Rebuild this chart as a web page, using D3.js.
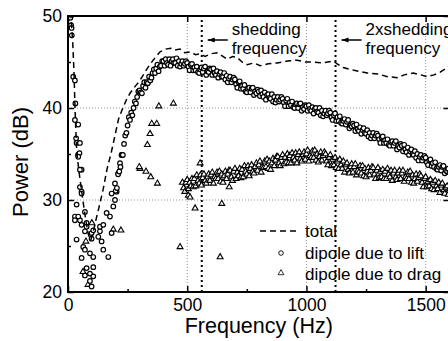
<!DOCTYPE html>
<html>
<head>
<meta charset="utf-8">
<script src="https://d3js.org/d3.v7.min.js"></script>
<style>
  body { margin: 0; background: #fff; }
  svg { display: block; font-family: "Liberation Sans", Arial, sans-serif; }
</style>
</head>
<body>
<div id="chart"></div>
<script>
// spectrum values (Hz, dB)
const totalHz = [8, 15, 20, 25, 30, 36, 45, 55, 65, 75, 85, 95, 105, 115, 130, 147, 164, 180, 197, 212, 227, 245, 260, 280, 302, 330, 357, 386, 410, 430, 449, 470, 490, 512, 535, 554, 575, 600, 625, 645, 667, 690, 709, 730, 751, 780, 806, 840, 877, 920, 961, 995, 1028, 1070, 1112, 1135, 1154, 1200, 1255, 1300, 1340, 1381, 1410, 1448, 1480, 1506, 1535, 1561, 1585, 1600];
const totalDb = [51.5, 49.0, 47.0, 44.0, 39.5, 35.5, 33.3, 31.4, 29.5, 27.8, 26.3, 25.6, 26.4, 27.6, 29.2, 31.1, 33.4, 35.0, 37.0, 38.8, 39.8, 40.9, 41.6, 42.3, 43.0, 44.2, 45.2, 46.1, 46.4, 46.5, 46.3, 46.4, 46.0, 46.1, 45.8, 45.9, 45.6, 45.9, 46.0, 45.7, 45.3, 45.6, 45.5, 45.0, 44.7, 44.9, 44.6, 44.8, 44.9, 45.1, 45.2, 45.0, 45.0, 44.9, 45.1, 44.7, 44.4, 44.1, 43.8, 43.7, 43.4, 43.3, 43.6, 43.8, 43.6, 43.4, 43.6, 43.9, 44.3, 44.6];

// dense part of the spectra: one value per 5 Hz bin
const binHz = 5;
const liftBandStartHz = 200;
const liftBandDb = [
  31.0, 31.3, 32.8, 33.1, 33.6, 34.9, 34.9, 36.1, 37.0, 37.3,
  38.1, 39.0, 38.7, 39.5, 39.2, 40.0, 40.7, 40.5, 41.2, 41.8,
  41.9, 41.7, 41.6, 42.4, 42.8, 42.2, 42.8, 42.7, 43.4, 43.0,
  43.3, 43.8, 44.2, 43.8, 44.3, 44.7, 44.0, 44.5, 44.6, 45.1,
  45.1, 44.6, 45.3, 44.9, 44.7, 45.3, 44.6, 45.1, 45.3, 44.9,
  44.9, 45.4, 44.6, 45.1, 44.5, 44.8, 45.1, 44.6, 44.8, 45.1,
  44.9, 44.5, 44.1, 44.7, 44.8, 44.1, 44.4, 44.1, 44.5, 43.9,
  43.8, 44.2, 44.4, 43.9, 44.3, 44.5, 43.6, 44.0, 43.9, 44.3,
  44.2, 43.6, 44.3, 43.8, 43.6, 44.0, 43.3, 43.7, 43.9, 43.4,
  43.4, 43.8, 43.1, 43.5, 42.8, 43.2, 43.4, 42.8, 43.1, 43.3,
  43.1, 42.6, 42.2, 42.8, 42.9, 42.1, 42.4, 42.1, 42.5, 41.8,
  41.7, 42.1, 42.2, 41.7, 42.1, 42.2, 41.4, 41.8, 41.6, 42.0,
  41.8, 41.3, 41.9, 41.5, 41.2, 41.7, 40.9, 41.4, 41.5, 41.1,
  41.0, 41.5, 40.7, 41.2, 40.6, 40.9, 41.2, 40.7, 40.9, 41.2,
  41.0, 40.6, 40.2, 40.8, 41.0, 40.2, 40.6, 40.3, 40.7, 40.1,
  40.0, 40.4, 40.5, 40.0, 40.4, 40.5, 39.7, 40.1, 39.9, 40.3,
  40.2, 39.7, 40.3, 39.9, 39.7, 40.1, 39.4, 39.9, 40.0, 39.6,
  39.5, 40.0, 39.2, 39.7, 39.1, 39.4, 39.7, 39.2, 39.4, 39.7,
  39.5, 39.0, 38.7, 39.2, 39.4, 38.6, 39.0, 38.6, 39.1, 38.4,
  38.3, 38.6, 38.8, 38.2, 38.5, 38.7, 37.8, 38.1, 38.0, 38.3,
  38.1, 37.5, 38.2, 37.7, 37.5, 37.9, 37.2, 37.6, 37.8, 37.3,
  37.2, 37.6, 36.9, 37.3, 36.7, 37.0, 37.3, 36.7, 37.0, 37.2,
  37.0, 36.6, 36.2, 36.8, 36.9, 36.2, 36.5, 36.2, 36.6, 36.0,
  35.9, 36.3, 36.4, 35.9, 36.2, 36.4, 35.5, 35.9, 35.7, 36.1,
  35.9, 35.3, 36.0, 35.5, 35.2, 35.7, 34.9, 35.3, 35.5, 35.0,
  34.9, 35.3, 34.6, 35.0, 34.3, 34.7, 34.9, 34.3, 34.6, 34.8,
  34.6, 34.1, 33.8, 34.3, 34.4, 33.7, 34.0, 33.6, 34.1, 33.4,
  33.3, 33.6, 33.8, 33.2, 33.6, 33.7, 32.9, 33.2, 33.1, 33.4,
  33.0
];
const liftLowHz = [10, 13, 15, 16, 22, 29, 31, 29, 34, 36, 42, 43, 50, 48, 57, 50, 57, 36, 29, 50, 78, 71, 99, 134, 43, 50, 57, 29, 43, 71, 36, 57, 78, 106, 134, 148, 127, 141, 99, 64, 71, 92, 106, 57, 148, 169, 106, 78, 92, 71, 106, 92, 99, 183, 176, 190, 197, 204, 197, 211, 218, 225, 183, 162];
const liftLowDb = [49.8, 49.0, 48.7, 47.9, 43.4, 43.0, 40.5, 38.7, 36.7, 36.2, 34.9, 38.2, 36.2, 35.1, 33.3, 31.4, 30.9, 29.5, 28.2, 27.8, 27.5, 26.6, 26.4, 26.6, 34.7, 33.3, 30.7, 27.8, 28.2, 28.7, 25.7, 27.3, 27.1, 26.7, 27.1, 27.3, 26.0, 25.5, 25.8, 24.9, 24.6, 24.2, 23.8, 23.7, 24.6, 23.8, 22.7, 22.6, 22.0, 21.8, 21.7, 21.2, 20.6, 26.4, 28.2, 29.3, 30.0, 30.9, 31.8, 32.9, 34.0, 34.9, 30.7, 28.6];

const dragBandStartHz = 480;
const dragBandDb = [
  31.9, 31.3, 30.9, 31.9, 32.2, 31.2, 31.9, 31.5, 32.3, 31.4,
  32.3, 31.5, 32.7, 32.1, 31.8, 32.7, 31.6, 32.4, 32.8, 32.1,
  31.8, 32.5, 32.8, 32.1, 32.7, 33.0, 31.8, 32.5, 32.3, 33.0,
  32.3, 33.1, 32.0, 32.8, 31.9, 32.6, 33.1, 32.3, 32.8, 33.2,
  33.2, 32.5, 32.1, 33.1, 33.4, 32.3, 33.0, 32.6, 33.4, 32.4,
  33.3, 32.5, 33.7, 33.1, 32.8, 33.7, 32.6, 33.4, 33.8, 33.1,
  32.9, 33.6, 34.0, 33.2, 33.8, 34.2, 33.0, 33.6, 33.5, 34.2,
  33.6, 34.4, 33.4, 34.2, 33.3, 34.0, 34.5, 33.7, 34.3, 34.7,
  34.7, 34.0, 33.7, 34.6, 34.9, 33.9, 34.6, 34.1, 35.0, 34.0,
  34.8, 34.0, 35.1, 34.6, 34.3, 35.1, 34.0, 34.9, 35.2, 34.5,
  34.2, 34.9, 35.2, 34.4, 35.0, 35.4, 34.2, 34.8, 34.6, 35.3,
  34.6, 35.4, 34.3, 35.0, 34.1, 34.7, 35.2, 34.3, 34.8, 35.2,
  35.0, 34.2, 33.8, 34.6, 34.9, 33.7, 34.4, 33.8, 34.6, 33.5,
  34.2, 33.4, 34.4, 33.8, 33.4, 34.2, 33.0, 33.8, 34.0, 33.3,
  32.9, 33.6, 33.9, 33.0, 33.6, 33.9, 32.7, 33.2, 33.0, 33.7,
  32.9, 33.7, 32.6, 33.4, 32.5, 33.1, 33.5, 32.7, 33.2, 33.6,
  33.5, 32.8, 32.3, 33.2, 33.5, 32.4, 33.1, 32.5, 33.3, 32.3,
  33.1, 32.3, 33.4, 32.8, 32.5, 33.2, 32.1, 32.9, 33.2, 32.5,
  32.2, 32.9, 33.2, 32.3, 32.9, 33.2, 32.0, 32.5, 32.3, 33.0,
  32.3, 33.1, 31.9, 32.7, 31.8, 32.3, 32.8, 32.0, 32.4, 32.8,
  32.6, 31.9, 31.4, 32.3, 32.5, 31.4, 32.0, 31.5, 32.2, 31.2,
  31.9, 31.1, 32.1, 31.5, 31.2, 31.9, 30.8, 31.6, 31.8, 31.1,
  30.7, 31.3, 31.5, 30.6, 31.2
];
const dragLowHz = [381, 442, 351, 372, 344, 333, 302, 327, 347, 375, 299, 190, 222, 498, 505, 512, 533, 554, 645, 676, 470, 638, 63, 84, 75, 100];
const dragLowDb = [40.2, 40.5, 38.3, 38.3, 37.2, 36.0, 33.4, 33.1, 32.5, 31.8, 33.6, 26.8, 26.7, 31.6, 30.5, 30.3, 29.1, 34.0, 29.6, 31.4, 24.9, 23.8, 22.2, 20.8, 25.5, 27.5];

const sheddingHz = [561, 1122];
const xMajorTicks = [0, 500, 1000, 1500];
const xMinorTicks = [250, 750, 1250];
const yMajorTicks = [20, 30, 40, 50];
const yMinorTicks = [25, 35, 45];
const gridX = [500, 1000, 1500];
const gridY = [30, 40];

const width = 448;
const height = 341;
const margin = { top: 16, right: -1.5, bottom: 49, left: 68 };

const svg = d3
  .select("#chart")
  .append("svg")
  .attr("width", width)
  .attr("height", height);

const x = d3.scaleLinear().domain([0, 1600]).range([margin.left, width - margin.right]);
const y = d3.scaleLinear().domain([20, 50]).range([height - margin.bottom, margin.top]);

const liftPoints = liftLowHz
  .map((f, i) => [f, liftLowDb[i]])
  .concat(liftBandDb.map((v, i) => [liftBandStartHz + i * binHz, v]));
const dragPoints = dragLowHz
  .map((f, i) => [f, dragLowDb[i]])
  .concat(dragBandDb.map((v, i) => [dragBandStartHz + i * binHz, v]));
const totalPoints = totalHz.map((f, i) => [f, totalDb[i]]);

svg
  .append("clipPath")
  .attr("id", "plot-clip")
  .append("rect")
  .attr("x", x(0))
  .attr("y", y(50))
  .attr("width", x(1600) - x(0))
  .attr("height", y(20) - y(50));

// dotted grid
const grid = svg.append("g").attr("stroke", "#777").attr("stroke-width", 0.8).attr("stroke-dasharray", "1,2");
grid
  .selectAll("line.gx")
  .data(gridX)
  .join("line")
  .attr("x1", (d) => x(d))
  .attr("x2", (d) => x(d))
  .attr("y1", y(20))
  .attr("y2", y(50));
grid
  .selectAll("line.gy")
  .data(gridY)
  .join("line")
  .attr("x1", x(0))
  .attr("x2", x(1600))
  .attr("y1", (d) => y(d))
  .attr("y2", (d) => y(d));

// shedding frequency markers
svg
  .append("g")
  .selectAll("line")
  .data(sheddingHz)
  .join("line")
  .attr("x1", (d) => x(d))
  .attr("x2", (d) => x(d))
  .attr("y1", y(20))
  .attr("y2", y(50))
  .attr("stroke", "#000")
  .attr("stroke-width", 2)
  .attr("stroke-dasharray", "2,3");

const plot = svg.append("g").attr("clip-path", "url(#plot-clip)");

const tri = d3.symbol(d3.symbolTriangle).size(15);

plot
  .append("g")
  .selectAll("path")
  .data(dragPoints)
  .join("path")
  .attr("d", tri)
  .attr("transform", (d) => `translate(${x(d[0])},${y(d[1])})`)
  .attr("fill", "#fff")
  .attr("stroke", "#000")
  .attr("stroke-width", 1.1);

plot
  .append("g")
  .selectAll("circle")
  .data(liftPoints)
  .join("circle")
  .attr("cx", (d) => x(d[0]))
  .attr("cy", (d) => y(d[1]))
  .attr("r", 2.3)
  .attr("fill", "#fff")
  .attr("stroke", "#000")
  .attr("stroke-width", 1.2);

plot
  .append("path")
  .datum(totalPoints)
  .attr("fill", "none")
  .attr("stroke", "#000")
  .attr("stroke-width", 1.5)
  .attr("stroke-dasharray", "6,4")
  .attr(
    "d",
    d3
      .line()
      .x((d) => x(d[0]))
      .y((d) => y(d[1]))
  );

// axes, ticks pointing inward
const styleAxis = (g) => {
  g.select(".domain").remove();
  g.selectAll(".tick line").attr("stroke", "#000").attr("stroke-width", 1.5);
  g.selectAll("text").attr("fill", "#000").style("font-size", "17.5px");
};

svg
  .append("g")
  .attr("transform", `translate(0,${y(20)})`)
  .call(d3.axisBottom(x).tickValues(xMajorTicks).tickSize(-6).tickPadding(7).tickFormat(d3.format("d")))
  .call(styleAxis);
svg
  .append("g")
  .attr("transform", `translate(0,${y(20)})`)
  .call(d3.axisBottom(x).tickValues(xMinorTicks).tickSize(-3).tickFormat(""))
  .call(styleAxis);
svg
  .append("g")
  .attr("transform", `translate(0,${y(50)})`)
  .call(d3.axisTop(x).tickValues(xMajorTicks).tickSize(-6).tickFormat(""))
  .call(styleAxis);
svg
  .append("g")
  .attr("transform", `translate(${x(0)},0)`)
  .call(d3.axisLeft(y).tickValues(yMajorTicks).tickSize(-6).tickPadding(6).tickFormat(d3.format("d")))
  .call(styleAxis);
svg
  .append("g")
  .attr("transform", `translate(${x(0)},0)`)
  .call(d3.axisLeft(y).tickValues(yMinorTicks).tickSize(-3).tickFormat(""))
  .call(styleAxis);
svg
  .append("g")
  .attr("transform", `translate(${x(1600)},0)`)
  .call(d3.axisRight(y).tickValues(yMajorTicks).tickSize(-6).tickFormat(""))
  .call(styleAxis);

// frame
svg
  .append("path")
  .attr("d", `M${x(1600)},${y(50)}H${x(0)}V${y(20)}H${x(1600)}`)
  .attr("fill", "none")
  .attr("stroke", "#000")
  .attr("stroke-width", 2);

svg
  .append("text")
  .attr("x", (x(0) + x(1600)) / 2)
  .attr("y", 333)
  .attr("text-anchor", "middle")
  .style("font-size", "21.5px")
  .text("Frequency (Hz)");

svg
  .append("text")
  .attr("transform", "rotate(-90)")
  .attr("x", -162)
  .attr("y", 28)
  .attr("text-anchor", "middle")
  .style("font-size", "22px")
  .text("Power (dB)");

// annotations
const notes = [
  { hz: 561, lines: ["shedding", "frequency"] },
  { hz: 1122, lines: ["2xshedding", "frequency"] },
];
notes.forEach((n) => {
  const x0 = x(n.hz) + 6;
  const g = svg.append("g");
  g.append("line")
    .attr("x1", x0)
    .attr("x2", x0 + 20)
    .attr("y1", 40)
    .attr("y2", 40)
    .attr("stroke", "#000")
    .attr("stroke-width", 1.5);
  g.append("path")
    .attr("d", `M${x0},40L${x0 + 7},37.5L${x0 + 7},42.5Z`)
    .attr("fill", "#000");
  n.lines.forEach((t, i) => {
    g.append("text")
      .attr("x", x0 + 24)
      .attr("y", 35 + i * 19)
      .style("font-size", "17px")
      .text(t);
  });
});

// legend
const legend = svg.append("g").attr("transform", "translate(260,231)");
legend
  .append("line")
  .attr("x1", 0)
  .attr("x2", 37)
  .attr("stroke", "#000")
  .attr("stroke-width", 1.5)
  .attr("stroke-dasharray", "6,4");
legend
  .append("circle")
  .attr("cx", 21)
  .attr("cy", 22)
  .attr("r", 2.3)
  .attr("fill", "#fff")
  .attr("stroke", "#000")
  .attr("stroke-width", 0.9);
legend
  .append("path")
  .attr("d", tri)
  .attr("transform", "translate(21,42)")
  .attr("fill", "#fff")
  .attr("stroke", "#000")
  .attr("stroke-width", 0.8);
["total", "dipole due to lift", "dipole due to drag"].forEach((t, i) => {
  legend
    .append("text")
    .attr("x", 45)
    .attr("y", 6 + i * 21.5)
    .style("font-size", "17px")
    .text(t);
});
</script>
</body>
</html>
